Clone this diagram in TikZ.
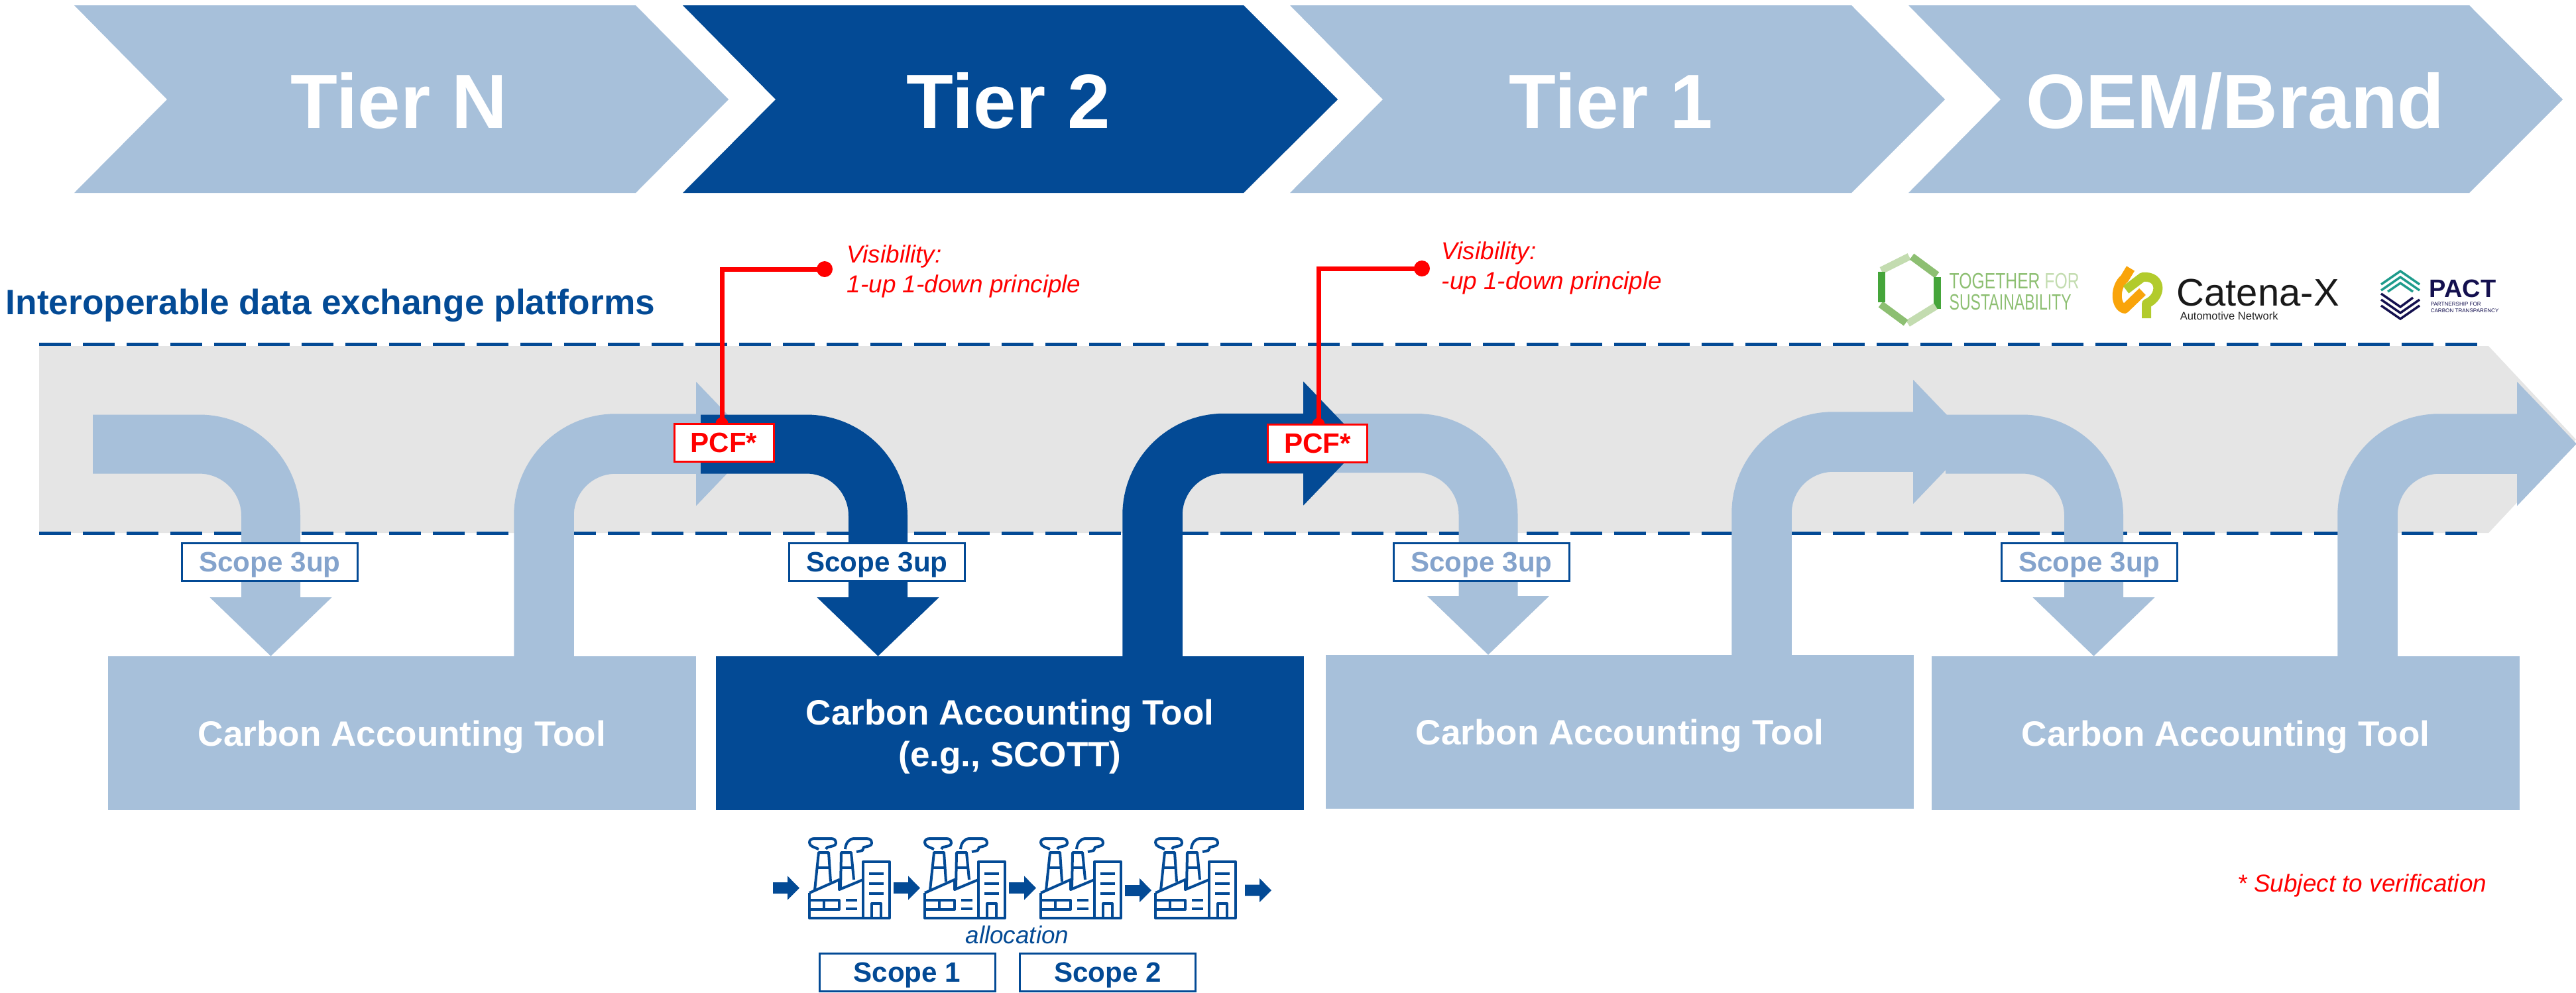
\documentclass[tikz,border=0pt]{standalone}
\usepackage{fontspec}
\setmainfont{Liberation Sans}
\usetikzlibrary{arrows.meta,positioning}
\definecolor{flowlight}{HTML}{A7C0DA}
\definecolor{flowdark}{HTML}{034A95}
\definecolor{bandgrey}{HTML}{E5E5E5}
\definecolor{scopegrey}{HTML}{84A3CC}
\definecolor{tfsdark}{HTML}{45A53A}
\definecolor{tfsmid}{HTML}{8DBF72}
\definecolor{tfslight}{HTML}{C3DCB0}
\definecolor{catorange}{HTML}{F9A40A}
\definecolor{catlime}{HTML}{B2CB2C}
\definecolor{pactteal}{HTML}{1E9C8C}
\definecolor{pactnavy}{HTML}{14104F}

\begin{document}
\begin{tikzpicture}[y=-1cm]
  \tikzset{tierlabel/.style = {anchor=base, text=white, inner sep=0pt, font=\fontsize{33}{36}\selectfont\bfseries},
           toolbox/.style = {fill=flowlight, text=white, inner sep=0pt, outer sep=0pt, align=center, text depth=0pt,
                             minimum width=8.87cm, minimum height=2.32cm, font=\fontsize{15.1}{18}\selectfont\bfseries},
           scopebox/.style = {draw=flowdark, line width=0.03cm, fill=white, inner sep=0pt, outer sep=0pt, text depth=0pt,
                              minimum width=2.65cm, minimum height=0.57cm, font=\fontsize{12}{14}\selectfont\bfseries},
           pcfbox/.style = {draw=red, line width=0.03cm, fill=white, text=red, inner sep=0pt, outer sep=0pt,
                            minimum width=1.50cm, minimum height=0.57cm, font=\fontsize{12}{14}\selectfont\bfseries},
           flowup/.style = {line width=0.905cm, rounded corners=1.08cm, -{Triangle[length=0.90cm,width=1.82cm]}},
           flowdown/.style = {line width=0.89cm, rounded corners=1.08cm, -{Triangle[length=0.89cm,width=1.79cm]}},
           smallflow/.style = {flowdark, line width=0.17cm, -{Triangle[length=0.18cm,width=0.35cm]}},
           dashline/.style = {flowdark, line width=0.05cm, dash pattern=on 0.48cm off 0.18cm},
           redline/.style = {red, line width=0.07cm},
           reddot/.style = {circle, fill=red, inner sep=0pt, outer sep=0pt, minimum size=0.24cm},
           hookdot/.style = {circle, fill=red, inner sep=0pt, outer sep=0pt, minimum size=0.19cm},
           vistext/.style = {text=red, inner sep=0pt, align=left, font=\fontsize{10.5}{12.8}\selectfont\itshape},
           factorybox/.style = {inner sep=0pt, outer sep=0pt, minimum width=1.21cm, minimum height=1.20cm},
           factoryline/.style = {flowdark, line width=0.04cm, line join=round},
           factory/.pic = {
             \draw[factoryline] (0,0.82) -- (0.45,0.62) -- (0.45,0.77) -- (0.81,0.62);
             \draw[factoryline] (0,0.82) -- (0,1.20) -- (1.207,1.20) -- (1.207,0.35) -- (0.81,0.35) -- (0.81,1.20);
             \draw[factoryline] (0.08,0.78) -- (0.14,0.21) -- (0.29,0.21) -- (0.32,0.65);
             \draw[factoryline] (0.11,0.44) -- (0.31,0.44);
             \draw[factoryline] (0.47,0.75) -- (0.48,0.21) -- (0.63,0.21) -- (0.67,0.62);
             \draw[factoryline] (0.47,0.44) -- (0.65,0.44);
             \draw[factoryline] (0.90,0.53) -- (1.12,0.53);
             \draw[factoryline] (0.90,0.68) -- (1.12,0.68);
             \draw[factoryline] (0.90,0.83) -- (1.12,0.83);
             \draw[factoryline] (0.94,1.20) -- (0.94,0.98) -- (1.08,0.98) -- (1.08,1.20);
             \draw[factoryline] (0,0.93) rectangle (0.45,1.07);
             \draw[factoryline] (0.22,0.93) -- (0.22,1.07);
             \draw[factoryline] (0.55,0.93) -- (0.72,0.93);
             \draw[factoryline] (0.55,1.06) -- (0.72,1.06);
             \draw[factoryline] (0.14,0.16) .. controls (0.08,0.13) and (0,0.12) .. (0,0.06) .. controls (0,0.02) and (0.03,0) .. (0.08,0) -- (0.33,0) .. controls (0.38,0) and (0.40,0.03) .. (0.40,0.07) .. controls (0.40,0.11) and (0.33,0.12) .. (0.27,0.13) -- (0.25,0.16);
             \draw[factoryline] (0.54,0.16) .. controls (0.55,0.06) and (0.60,0) .. (0.68,0) -- (0.86,0) .. controls (0.92,0) and (0.94,0.03) .. (0.94,0.07) .. controls (0.94,0.11) and (0.88,0.12) .. (0.82,0.13) -- (0.80,0.18) -- (0.71,0.20);
           }}
  \useasboundingbox (0,0) rectangle (38.86,14.97);
  %%% TIERS %%%
  \fill[flowlight] (1.12,0.08) -- (9.59,0.08) -- (10.99,1.50) -- (9.59,2.91) -- (1.12,2.91) -- (2.52,1.50) -- cycle;
  \fill[flowdark] (10.30,0.08) -- (18.76,0.08) -- (20.18,1.50) -- (18.76,2.91) -- (10.30,2.91) -- (11.70,1.50) -- cycle;
  \fill[flowlight] (19.46,0.08) -- (27.93,0.08) -- (29.34,1.50) -- (27.93,2.91) -- (19.46,2.91) -- (20.86,1.50) -- cycle;
  \fill[flowlight] (28.79,0.08) -- (37.25,0.08) -- (38.66,1.50) -- (37.25,2.91) -- (28.79,2.91) -- (30.18,1.50) -- cycle;
  \node[tierlabel] (tierN) at (6.02,1.93) {Tier N};
  \node[tierlabel] (tierTwo) at (15.21,1.93) {Tier 2};
  \node[tierlabel] (tierOne) at (24.30,1.93) {Tier 1};
  \node[tierlabel] (tierOem) at (33.72,1.93) {OEM/Brand};
  %%% PLATFORM BAND %%%
  \fill[bandgrey] (0.59,5.22) -- (37.54,5.22) -- (38.86,6.63) -- (37.54,8.04) -- (0.59,8.04) -- cycle;
  \coordinate (bandTopL) at (0.59,5.19);
  \coordinate (bandTopR) at (37.37,5.19);
  \coordinate (bandLowL) at (0.59,8.04);
  \coordinate (bandLowR) at (37.37,8.04);
  \draw[dashline] (bandTopL) -- (bandTopR);
  \draw[dashline] (bandLowL) -- (bandLowR);
  \node[anchor=base west, inner sep=0pt, text=flowdark, font=\fontsize{15.15}{18}\selectfont\bfseries] (platforms) at (0.08,4.74) {Interoperable data exchange platforms};
  %%% TOOLS %%%
  \node[toolbox] (toolA) at (6.065,11.06) {Carbon Accounting Tool};
  \node[toolbox, right=0.30cm of toolA, fill=flowdark] (toolB) {Carbon Accounting Tool\\(e.g., SCOTT)};
  \node[toolbox, right=0.33cm of toolB, yshift=0.02cm] (toolC) {Carbon Accounting Tool};
  \node[toolbox, right=0.27cm of toolC, yshift=-0.02cm] (toolD) {Carbon Accounting Tool};
  %%% FLOWS %%%
  \coordinate (startA) at (1.40,6.70);
  \coordinate (dropA) at (4.085,6.70);
  \coordinate (riseA) at (8.205,6.695);
  \coordinate (tipA) at (11.40,6.695);
  \coordinate (startB) at (10.57,6.70);
  \coordinate (dropB) at (13.245,6.70);
  \coordinate (riseB) at (17.385,6.69);
  \coordinate (tipB) at (20.56,6.69);
  \coordinate (startC) at (20.00,6.685);
  \coordinate (dropC) at (22.45,6.685);
  \coordinate (riseC) at (26.575,6.665);
  \coordinate (tipC) at (29.76,6.665);
  \coordinate (startD) at (29.35,6.70);
  \coordinate (dropD) at (31.585,6.70);
  \coordinate (riseD) at (35.715,6.695);
  \coordinate (tipD) at (38.87,6.695);
  \draw[flowdown, flowlight] (startA) -| (dropA |- toolA.north);
  \draw[flowup, flowlight] (riseA |- toolA.north) |- (tipA);
  \draw[flowdown, flowdark] (startB) -| (dropB |- toolB.north);
  \draw[flowdown, flowlight] (startC) -| (dropC |- toolC.north);
  \draw[flowup, flowdark] (riseB |- toolB.north) |- (tipB);
  \draw[flowdown, flowlight] (startD) -| (dropD |- toolD.north);
  \draw[flowup, flowlight] (riseC |- toolC.north) |- (tipC);
  \draw[flowup, flowlight] (riseD |- toolD.north) |- (tipD);
  %%% SCOPE 3 %%%
  \node[scopebox, text=scopegrey] (scopeA) at (4.07,8.48) {Scope 3up};
  \node[scopebox, text=flowdark] (scopeB) at (13.23,8.48) {Scope 3up};
  \node[scopebox, text=scopegrey] (scopeC) at (22.35,8.48) {Scope 3up};
  \node[scopebox, text=scopegrey] (scopeD) at (31.52,8.48) {Scope 3up};
  %%% VISIBILITY %%%
  \node[reddot] (visA) at (12.44,4.06) {};
  \node[hookdot] (hookA) at (10.89,6.39) {};
  \draw[redline] (hookA.center) |- (visA.center);
  \node[pcfbox, below=0pt of hookA.center, xshift=0.03cm] (pcfA) {PCF*};
  \node[vistext, right=0.21cm of visA, yshift=-0.03cm] (textA) {Visibility:\\1-up 1-down principle};
  \node[reddot] (visB) at (21.45,4.05) {};
  \node[hookdot] (hookB) at (19.89,6.40) {};
  \draw[redline] (hookB.center) |- (visB.center);
  \node[pcfbox, below=0pt of hookB.center, xshift=-0.015cm] (pcfB) {PCF*};
  \node[vistext, right=0.17cm of visB, yshift=0.01cm] (textB) {Visibility:\\-up 1-down principle};
  %%% FACTORIES %%%
  \node[factorybox] (factA) at (12.815,13.25) {};
  \node[factorybox, right=0.53cm of factA] (factB) {};
  \node[factorybox, right=0.54cm of factB] (factC) {};
  \node[factorybox, right=0.52cm of factC] (factD) {};
  \pic at (factA.north west) {factory};
  \pic at (factB.north west) {factory};
  \pic at (factC.north west) {factory};
  \pic at (factD.north west) {factory};
  \coordinate (feedIn) at (11.66,13.395);
  \coordinate (feedOut) at (19.18,13.43);
  \draw[smallflow, shorten >=0.15cm] (feedIn) -- ([yshift=-0.145cm]factA.west);
  \draw[smallflow, shorten <=0.06cm, shorten >=0.07cm] ([yshift=-0.145cm]factA.east) -- ([yshift=-0.145cm]factB.west);
  \draw[smallflow, shorten <=0.06cm, shorten >=0.07cm] ([yshift=-0.145cm]factB.east) -- ([yshift=-0.145cm]factC.west);
  \draw[smallflow, shorten <=0.06cm, shorten >=0.06cm] ([yshift=-0.18cm]factC.east) -- ([yshift=-0.18cm]factD.west);
  \draw[smallflow, shorten <=0.14cm] ([yshift=-0.18cm]factD.east) -- (feedOut);
  \node[anchor=base, inner sep=0pt, text=flowdark, font=\fontsize{10.5}{12}\selectfont\itshape] (allocation) at (15.345,14.23) {allocation};
  \node[scopebox, text=flowdark] (scopeOne) at (13.685,14.665) {Scope 1};
  \node[scopebox, text=flowdark, right=0.375cm of scopeOne] (scopeTwo) {Scope 2};
  \node[anchor=base west, inner sep=0pt, text=red, font=\fontsize{10.5}{12}\selectfont\itshape] (subject) at (33.75,13.45) {* Subject to verification};
  %%% LOGOS %%%
  \draw[tfslight, line width=0.11cm] (28.38,4.08) -- (28.80,3.87);
  \draw[tfsmid, line width=0.11cm] (28.84,3.87) -- (29.22,4.15);
  \draw[tfsdark, line width=0.11cm] (29.22,4.18) -- (29.22,4.66);
  \draw[tfslight, line width=0.11cm] (29.20,4.62) -- (28.78,4.88);
  \draw[tfsmid, line width=0.11cm] (28.75,4.87) -- (28.37,4.59);
  \draw[tfsdark, line width=0.11cm] (28.38,4.10) -- (28.38,4.56);
  \node[anchor=base west, inner sep=0pt, font=\fontsize{9.5}{10}\selectfont] (tfsOne) at (29.40,4.35) {\scalebox{0.74}[1]{\textcolor{tfsmid}{TOGETHER} \textcolor{tfslight}{FOR}}};
  \node[anchor=base west, inner sep=0pt, text=tfsmid, font=\fontsize{9.5}{10}\selectfont] (tfsTwo) at (29.40,4.67) {\scalebox{0.69}[1]{SUSTAINABILITY}};
  \draw[catorange, line width=0.14cm, line join=round] (32.14,4.05) -- (32.05,4.20) .. controls (31.90,4.32) and (31.90,4.62) .. (32.05,4.66) -- (32.32,4.40);
  \draw[catlime, line width=0.14cm, line join=round] (32.07,4.37) -- (32.32,4.18) .. controls (32.62,4.15) and (32.62,4.48) .. (32.38,4.58) -- (32.38,4.80);
  \node[anchor=base west, inner sep=0pt, text=black!90, font=\fontsize{16.5}{18}\selectfont] (catena) at (32.83,4.61) {Catena-X};
  \node[anchor=base west, inner sep=0pt, text=black!85, font=\fontsize{4.7}{6}\selectfont] (catenaNet) at (32.88,4.82) {Automotive Network};
  \draw[pactteal, line width=0.035cm] (35.92,4.29) -- (36.21,4.09) -- (36.50,4.29);
  \draw[pactteal, line width=0.035cm] (35.92,4.38) -- (36.21,4.18) -- (36.50,4.38);
  \draw[pactteal, line width=0.035cm] (36.02,4.40) -- (36.21,4.27) -- (36.40,4.40);
  \draw[pactnavy, line width=0.035cm] (35.92,4.61) -- (36.21,4.81) -- (36.50,4.61);
  \draw[pactnavy, line width=0.035cm] (35.92,4.52) -- (36.21,4.72) -- (36.50,4.52);
  \draw[pactnavy, line width=0.035cm] (35.92,4.43) -- (36.21,4.63) -- (36.40,4.49);
  \node[anchor=base west, inner sep=0pt, text=pactnavy, font=\fontsize{10.8}{12}\selectfont\bfseries] (pact) at (36.64,4.48) {PACT};
  \node[anchor=base west, inner sep=0pt, text=pactnavy, font=\fontsize{2.3}{3}\selectfont] (pactOne) at (36.66,4.61) {PARTNERSHIP FOR};
  \node[anchor=base west, inner sep=0pt, text=pactnavy, font=\fontsize{2.3}{3}\selectfont] (pactTwo) at (36.66,4.71) {CARBON TRANSPARENCY};
\end{tikzpicture}
\end{document}
